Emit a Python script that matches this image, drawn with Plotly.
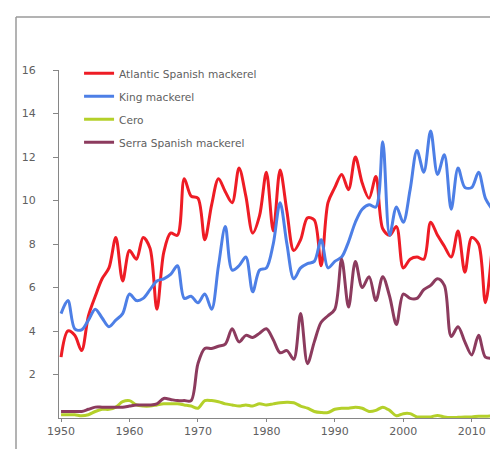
import plotly.graph_objects as go

years = list(range(1950, 2014))

atlantic_spanish = [2.8, 4.0, 3.8, 3.1, 4.7, 5.6, 6.4, 6.9, 8.3, 6.3,
                    7.7, 7.3, 8.3, 7.8, 5.0, 7.6, 8.5, 8.4, 11.0, 10.2,
                    10.1, 8.2, 9.8, 11.0, 10.4, 9.9, 11.5, 10.2, 8.5, 9.3,
                    11.3, 8.6, 11.4, 9.5, 7.7, 8.2, 9.2, 9.1, 7.0, 9.9,
                    10.6, 11.2, 10.5, 12.0, 10.8, 10.1, 11.1, 8.7, 8.4, 8.8,
                    6.9, 7.3, 7.4, 7.3, 9.0, 8.4, 7.9, 7.4, 8.6, 6.7,
                    8.3, 8.0, 5.3, 7.9]

king = [4.8, 5.4, 4.1, 4.05, 4.5, 5.0, 4.6, 4.2, 4.5, 4.8,
        5.7, 5.4, 5.5, 5.9, 6.3, 6.4, 6.6, 7.0, 5.5, 5.6,
        5.3, 5.7, 5.0, 7.0, 8.8, 6.8, 7.0, 7.4, 5.8, 6.8,
        6.9, 8.0, 9.9, 8.0, 6.4, 6.9, 7.1, 7.2, 8.2, 6.9,
        7.2, 7.4, 8.1, 9.0, 9.6, 9.8, 9.7, 12.7, 8.4, 9.7,
        9.0, 10.5, 12.3, 11.3, 13.2, 11.2, 12.1, 9.6, 11.5, 10.6,
        10.6, 11.3, 10.1, 9.6]

cero = [0.15, 0.15, 0.15, 0.1, 0.15, 0.3, 0.4, 0.4, 0.5, 0.75,
        0.8, 0.6, 0.55, 0.55, 0.6, 0.65, 0.65, 0.65, 0.6, 0.55,
        0.45, 0.8, 0.8, 0.75, 0.65, 0.6, 0.55, 0.6, 0.55, 0.65,
        0.6, 0.65, 0.7, 0.72, 0.7, 0.55, 0.45, 0.3, 0.25, 0.25,
        0.4, 0.45, 0.45, 0.5, 0.45, 0.3, 0.35, 0.5, 0.35, 0.1,
        0.2, 0.2, 0.05, 0.05, 0.05, 0.12, 0.05, 0.02, 0.03, 0.05,
        0.05, 0.08, 0.08, 0.1]

serra_spanish = [0.3, 0.3, 0.3, 0.3, 0.4, 0.5, 0.5, 0.5, 0.5, 0.5,
                 0.55, 0.6, 0.6, 0.6, 0.65, 0.9, 0.85, 0.8, 0.8, 0.8,
                 2.5, 3.2, 3.2, 3.3, 3.4, 4.1, 3.5, 3.8, 3.7, 3.9,
                 4.1, 3.6, 3.0, 3.1, 2.7, 4.8, 2.5, 3.5, 4.4, 4.7,
                 5.0, 7.3, 5.1, 7.2, 6.0, 6.5, 5.4, 6.5, 5.6, 4.3,
                 5.7, 5.5, 5.5, 5.9, 6.1, 6.4, 6.1, 3.75, 4.2, 3.5,
                 2.9, 3.8, 2.8, 2.75]

series = [
    ("Atlantic Spanish mackerel", atlantic_spanish, "#ee1c25"),
    ("King mackerel", king, "#4d7fe6"),
    ("Cero", cero, "#b4d02a"),
    ("Serra Spanish mackerel", serra_spanish, "#8c3b5e"),
]

x_ticks = [1950, 1960, 1970, 1980, 1990, 2000, 2010]
y_ticks = [2, 4, 6, 8, 10, 12, 14, 16]

fig = go.Figure()
for i, (name, vals, col) in enumerate(series):
    fig.add_trace(go.Scatter(
        x=years, y=vals, name=name, mode="lines",
        line=dict(color=col, width=3, shape="spline", smoothing=0.9),
        legendgroup=str(i),
    ))

font_family = "DejaVu Sans, Verdana, sans-serif"
txt = "#606060"

fig.update_layout(
    width=498, height=449,
    margin=dict(l=51, r=11, t=62, b=39),
    paper_bgcolor="white", plot_bgcolor="white",
    font=dict(family=font_family, size=10, color=txt),
    showlegend=True,
    legend=dict(
        x=0.046, y=1.032, xanchor="left", yanchor="top",
        bgcolor="rgba(0,0,0,0)", font=dict(size=10.6, color=txt),
        tracegroupgap=4, traceorder="grouped",
    ),
    xaxis=dict(
        range=[1949.7, 2013.4], tickvals=x_ticks, ticktext=[str(v) for v in x_ticks],
        showgrid=False, zeroline=False, showline=True, linecolor="#868686", linewidth=1,
        ticks="outside", ticklen=3, tickcolor="#868686",
        tickfont=dict(size=11, color=txt),
    ),
    yaxis=dict(
        range=[0, 16], tickvals=y_ticks,
        ticktext=[str(v) + "\u00a0\u00a0" for v in y_ticks],
        showgrid=False, zeroline=False, showline=True, linecolor="#868686", linewidth=1,
        ticks="outside", ticklen=5, tickcolor="#868686", ticklabelstandoff=8,
        tickfont=dict(size=11, color=txt),
    ),
    shapes=[
        dict(type="line", xref="paper", yref="paper",
             x0=(8 - 51) / 436, x1=(498 - 51) / 436,
             y0=(410 - 9) / 348, y1=(410 - 9) / 348,
             line=dict(color="#9a9a9a", width=1.5)),
        dict(type="line", xref="paper", yref="paper",
             x0=(8 - 51) / 436, x1=(8 - 51) / 436,
             y0=(410 - 9) / 348, y1=(410 - 452) / 348,
             line=dict(color="#9a9a9a", width=1.5)),
    ],
)

fig.write_html("out.html")
